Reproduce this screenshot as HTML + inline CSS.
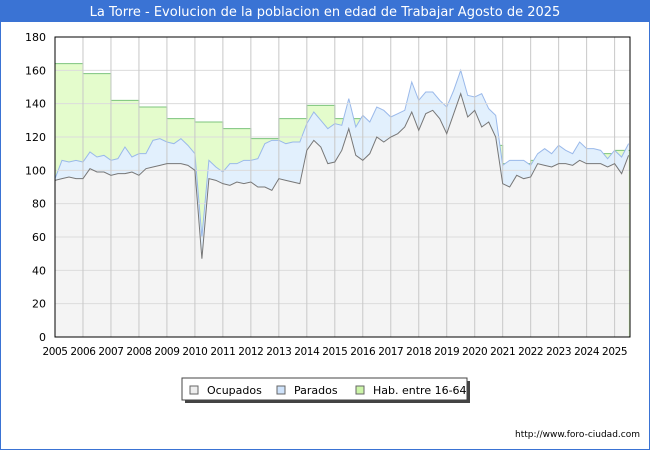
<!DOCTYPE html>
<html><head><meta charset="utf-8"><style>
body{margin:0;width:650px;height:450px;overflow:hidden;background:#fff;font-family:"DejaVu Sans","Liberation Sans",sans-serif}
</style></head><body>
<svg id="c" width="650" height="450" xmlns="http://www.w3.org/2000/svg">
<rect x="0.5" y="0.5" width="649" height="449" fill="#fff" stroke="#3a73d4"/>
<rect x="0" y="0" width="650" height="22" fill="#3a73d4"/>
<text x="325" y="16" text-anchor="middle" fill="#fff" font-size="13">La Torre - Evolucion de la poblacion en edad de Trabajar Agosto de 2025</text>
<g id="plot"></g>
<g>
<rect x="185" y="381" width="285" height="22" fill="#444"/>
<rect x="182" y="378" width="285" height="22" fill="#fff" stroke="#444"/>
<rect x="190" y="386" width="8" height="8" fill="#eee" stroke="#666"/>
<text x="207" y="394" font-size="11">Ocupados</text>
<rect x="277" y="386" width="8" height="8" fill="#cfe3fb" stroke="#666"/>
<text x="294" y="394" font-size="11">Parados</text>
<rect x="356" y="386" width="8" height="8" fill="#ccf5a8" stroke="#666"/>
<text x="373" y="394" font-size="11">Hab. entre 16-64</text>
</g>
<text x="640" y="437" text-anchor="end" font-size="9" fill="#000">http://www.foro-ciudad.com</text>
</svg>
<script>
const years=[2005,2006,2007,2008,2009,2010,2011,2012,2013,2014,2015,2016,2017,2018,2019,2020,2021,2022,2023,2024,2025];
const hab=[164,158,142,138,131,129,125,119,131,139,131,118,115,115,115,115,104,106,110,110,112];
const ocupados=[94,95,96,95, 95,101,99,99, 97,98,98,99, 97,101,102,103, 104,104,104,103, 100,47,95,94, 92,91,93,92, 93,90,90,88, 95,94,93,92, 112,118,114,104, 105,112,125,109, 106,110,120,117, 120,122,126,135, 124,134,136,131, 122,134,146,132, 136,126,129,120, 92,90,97,95, 96,104,103,102, 104,104,103,106, 104,104,104,102, 104,98,109];
const parados=[95,106,105,106, 105,111,108,109, 106,107,114,108, 110,110,118,119, 117,116,119,115, 110,60,106,102, 99,104,104,106, 106,107,116,118, 118,116,117,117, 128,135,130,125, 128,127,143,126, 133,129,138,136, 132,134,136,153, 142,147,147,142, 138,148,160,145, 144,146,137,133, 103,106,106,106, 103,110,113,110, 115,112,110,117, 113,113,112,107, 112,108,116];
const yTicks=[0,20,40,60,80,100,120,140,160,180];
const X0=55,X1=630,Y0=337,Y1=37,T0=2005,T1=2025.55;
const sx=t=>X0+(t-T0)/(T1-T0)*(X1-X0);
const sy=v=>Y0-(v/180)*(Y0-Y1);
const NS="http://www.w3.org/2000/svg";
const g=document.getElementById('plot');
function mk(tag,attrs){const e=document.createElementNS(NS,tag);for(const k in attrs)e.setAttribute(k,attrs[k]);g.appendChild(e);return e;}
const tq=i=>T0+i*0.25;
let hp=[];years.forEach((y,i)=>{const xa=sx(y),xb=sx(Math.min(y+1,T1));hp.push([xa,sy(hab[i])],[xb,sy(hab[i])]);});
let hs=hp.map(p=>p.join(',')).join(' ');
let e=mk('polygon',{points:`${X0},${Y0} ${hs} ${X1},${Y0}`,fill:'#e4fccc'});


e=mk('polyline',{points:hs,fill:'none',stroke:'#7cc47c','stroke-width':1});


let pp=parados.map((v,i)=>[sx(tq(i)),sy(v)]);
let ps=pp.map(p=>p.join(',')).join(' ');
e=mk('polygon',{points:`${X0},${Y0} ${ps} ${pp[pp.length-1][0]},${Y0}`,fill:'#e2f0fd'});


e=mk('polyline',{points:ps,fill:'none',stroke:'#9ab9ea','stroke-width':1});


let op=ocupados.map((v,i)=>[sx(tq(i)),sy(v)]);
let os=op.map(p=>p.join(',')).join(' ');
e=mk('polygon',{points:`${X0},${Y0} ${os} ${op[op.length-1][0]},${Y0}`,fill:'#f4f4f4'});


yTicks.forEach(v=>{const y=sy(v);
 let l=mk('line',{x1:X0,x2:X1,y1:y,y2:y,stroke:'#dcdcdc','stroke-width':1});
 
 
 let t=mk('text',{x:X0-9,y:y+4,'text-anchor':'end','font-size':11});t.textContent=v;
 
 });
years.forEach(yr=>{const x=sx(yr);
 let l=mk('line',{x1:x,x2:x,y1:Y1,y2:Y0,stroke:'#c8c8c8','stroke-width':1});
 
 
 let t=mk('text',{x:x,y:355,'text-anchor':'middle','font-size':10.5,'letter-spacing':'-0.4'});t.textContent=yr;
 
 });
e=mk('polyline',{points:os,fill:'none',stroke:'#777','stroke-width':1});


e=mk('rect',{x:X0,y:Y1,width:X1-X0,height:Y0-Y1,fill:'none',stroke:'#000','stroke-width':1});


</script>
</body></html>
